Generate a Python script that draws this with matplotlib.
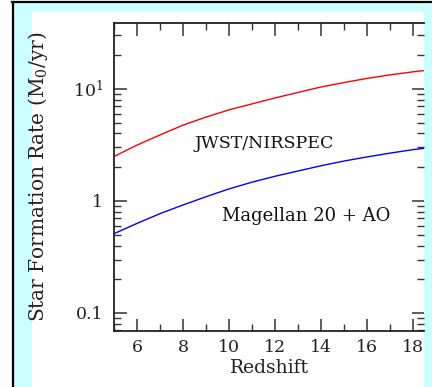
import matplotlib
matplotlib.use("Agg")
import matplotlib.pyplot as plt
from matplotlib.patches import Rectangle
from matplotlib.lines import Line2D
from matplotlib.ticker import FixedLocator, FixedFormatter, NullFormatter

plt.rcParams['font.family'] = ['DejaVu Serif']
plt.rcParams['mathtext.fontset'] = 'dejavuserif'

# Data
redshift = [5, 6, 7, 8, 9, 10, 11, 12, 13, 14, 15, 16, 17, 18, 18.5]
sfr_jwst = [2.49, 3.15, 3.88, 4.75, 5.6, 6.5, 7.35, 8.3, 9.3, 10.4, 11.4, 12.4, 13.35, 14.2, 14.6]
sfr_magellan = [0.51, 0.63, 0.77, 0.92, 1.09, 1.28, 1.47, 1.66, 1.85, 2.06, 2.27, 2.47, 2.67, 2.87, 2.95]
label_jwst = "JWST/NIRSPEC"
label_magellan = "Magellan 20 + AO"
xticks = [6, 8, 10, 12, 14, 16, 18]
yticks = [0.1, 1, 10]
yticklabels = ["0.1", "1", "$10^1$"]

W, H = 432, 387
fig = plt.figure(figsize=(W / 100, H / 100), dpi=100, facecolor='white')

def fx(px):
    return px / W

def fy(py):
    return 1 - py / H

# cyan backdrop with black left/top border
fig.patches.append(Rectangle((fx(12), 0), fx(W - 12), fy(1), transform=fig.transFigure,
                             facecolor='#ccffff', edgecolor='none', zorder=0))
fig.lines.append(Line2D([fx(12.5), fx(12.5)], [0, fy(1.5)], transform=fig.transFigure,
                        color='black', lw=1.6, zorder=1))
fig.lines.append(Line2D([fx(12), 1], [fy(1.5), fy(1.5)], transform=fig.transFigure,
                        color='black', lw=1.6, zorder=1))
# white panel
fig.patches.append(Rectangle((fx(32), 0), fx(424 - 32), fy(12), transform=fig.transFigure,
                             facecolor='white', edgecolor='none', zorder=0.5))

left, right, top, bottom = 114, 424, 22.7, 331
ax = fig.add_axes([fx(left), fy(bottom), fx(right - left), (bottom - top) / H])
ax.set_zorder(5)
ax.set_facecolor('white')

ax.plot(redshift, sfr_jwst, color='red', lw=1.0)
ax.plot(redshift, sfr_magellan, color='blue', lw=1.0)

ax.set_yscale('log')
ax.set_xlim(5, 18.48)
ax.set_ylim(0.069, 39)

ax.xaxis.set_major_locator(FixedLocator(xticks))
ax.xaxis.set_minor_locator(FixedLocator([5, 7, 9, 11, 13, 15, 17]))
ax.yaxis.set_major_locator(FixedLocator(yticks))
ax.yaxis.set_major_formatter(FixedFormatter(yticklabels))
ax.yaxis.set_minor_formatter(NullFormatter())

ax.tick_params(which='both', direction='in', top=True, right=True, colors='#333333',
               labelcolor='#222222', labelsize=12.5)
ax.tick_params(which='major', length=9, width=1.1)
ax.tick_params(which='minor', length=4.8, width=1.0)
ax.tick_params(axis='x', pad=6)
ax.tick_params(axis='y', pad=8)

for s in ['left', 'top', 'bottom']:
    ax.spines[s].set_linewidth(1.3)
    ax.spines[s].set_color('#222222')
ax.spines['right'].set_visible(False)

ax.set_xlabel('Redshift', fontsize=13.5, color='#222222', labelpad=2)
ax.set_ylabel('Star Formation Rate (M$_0$/yr)', fontsize=14.5, color='#222222')
ax.yaxis.set_label_coords((50 - left) / (right - left), 0.5)

ax.text(11.52, 3.27, label_jwst, fontsize=12.5, ha='center', va='center', color='#111111')
ax.text(13.34, 0.734, label_magellan, fontsize=13, ha='center', va='center', color='#111111')

fig.savefig('out.png', dpi=100, facecolor=fig.get_facecolor())
